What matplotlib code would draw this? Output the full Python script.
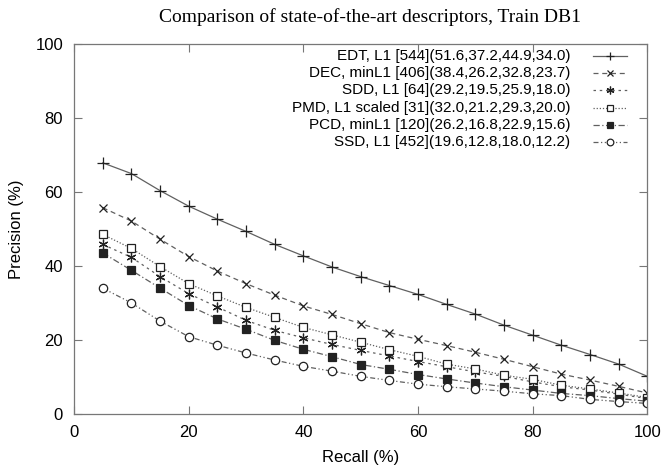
import numpy as np
import matplotlib.pyplot as plt
from matplotlib.lines import Line2D

# Data
recall = [5, 10, 15, 20, 25, 30, 35, 40, 45, 50, 55, 60, 65, 70, 75, 80, 85, 90, 95, 100]

edt = [67.8, 64.9, 60.3, 56.1, 52.6, 49.3, 45.8, 42.7, 39.7, 37.1,
       34.7, 32.3, 29.6, 27.0, 24.0, 21.3, 18.6, 16.1, 13.5, 10.2]
dec = [55.7, 52.1, 47.2, 42.5, 38.6, 35.2, 32.1, 29.2, 26.9, 24.4,
       22.0, 20.2, 18.5, 16.7, 14.8, 12.8, 10.8, 9.2, 7.5, 5.7]
sdd = [45.8, 42.3, 37.1, 32.5, 28.9, 25.3, 22.6, 20.6, 18.8, 17.2,
       15.7, 14.2, 12.8, 11.4, 10.2, 8.7, 7.4, 6.5, 5.4, 4.2]
pmd = [48.5, 44.7, 39.8, 35.2, 31.9, 28.8, 26.1, 23.4, 21.4, 19.4,
       17.4, 15.6, 13.5, 12.2, 10.5, 9.4, 7.8, 6.8, 5.7, 4.5]
pcd = [43.5, 38.8, 34.0, 29.3, 25.7, 22.9, 19.9, 17.5, 15.5, 13.4,
       12.1, 10.7, 9.5, 8.4, 7.4, 6.5, 5.6, 5.0, 4.2, 3.5]
ssd = [34.0, 30.0, 25.1, 20.9, 18.6, 16.5, 14.6, 12.9, 11.6, 10.2,
       9.1, 8.1, 7.4, 6.8, 6.2, 5.5, 5.0, 4.0, 3.4, 2.9]

labels = [
    "EDT, L1 [544](51.6,37.2,44.9,34.0)",
    "DEC, minL1 [406](38.4,26.2,32.8,23.7)",
    "SDD, L1 [64](29.2,19.5,25.9,18.0)",
    "PMD, L1 scaled [31](32.0,21.2,29.3,20.0)",
    "PCD, minL1 [120](26.2,16.8,22.9,15.6)",
    "SSD, L1 [452](19.6,12.8,18.0,12.2)",
]

plt.rcParams['font.family'] = ['Liberation Sans', 'DejaVu Sans']

line_col = '#606060'
mk_col = '#222222'
styles = [
    dict(linestyle='-', marker='+', ms=8, mfc=mk_col),
    dict(linestyle=(0, (4, 3)), marker='x', ms=6, mfc=mk_col),
    dict(linestyle=(0, (2, 3)), marker=(6, 2, 0), ms=7, mfc=mk_col),
    dict(linestyle=(0, (1, 1.5)), marker='s', ms=6, mfc='white'),
    dict(linestyle=(0, (5, 2, 1, 2)), marker='s', ms=6, mfc=mk_col),
    dict(linestyle=(0, (4, 2, 1, 2, 1, 2)), marker='o', ms=6, mfc='white'),
]
series = [edt, dec, sdd, pmd, pcd, ssd]

fig = plt.figure(figsize=(6.62, 4.68), dpi=100)
ax = fig.add_axes([0.112, 0.115, 0.866, 0.792])

for vals, st in zip(series, styles):
    ax.plot(recall, vals, color=line_col, lw=0.9, mec=mk_col, mew=0.9, **st)

ax.set_xlim(0, 100)
ax.set_ylim(0, 100)
ax.set_xticks(np.arange(0, 101, 20))
ax.set_yticks(np.arange(0, 101, 20))
ax.tick_params(direction='in', top=True, right=True, length=6, width=0.8,
               color='#777777', labelsize=12, pad=8)
for s in ax.spines.values():
    s.set_color('#777777')
    s.set_linewidth(0.9)

ax.set_xlabel("Recall (%)", fontsize=12, labelpad=7)
ax.set_ylabel("Precision (%)", fontsize=12, labelpad=8)
fig.text(0.559, 0.963, "Comparison of state-of-the-art descriptors, Train DB1",
         ha='center', va='center', family='Liberation Serif', fontsize=14)

# gnuplot-style key: right-aligned text, sample on the right
y0, dy = 0.967, 0.0468
for i, (lab, st) in enumerate(zip(labels, styles)):
    y = y0 - i * dy
    ax.text(0.865, y, lab, transform=ax.transAxes, ha='right', va='center', fontsize=11)
    ax.add_line(Line2D([0.905, 0.965], [y, y], transform=ax.transAxes,
                       color=line_col, lw=0.9, linestyle=st['linestyle']))
    ax.add_line(Line2D([0.935], [y], transform=ax.transAxes, marker=st['marker'],
                       ms=st['ms'] * 0.8, mfc=st['mfc'], mec=mk_col, mew=0.9,
                       linestyle='none'))

fig.savefig("out.png", dpi=100)
